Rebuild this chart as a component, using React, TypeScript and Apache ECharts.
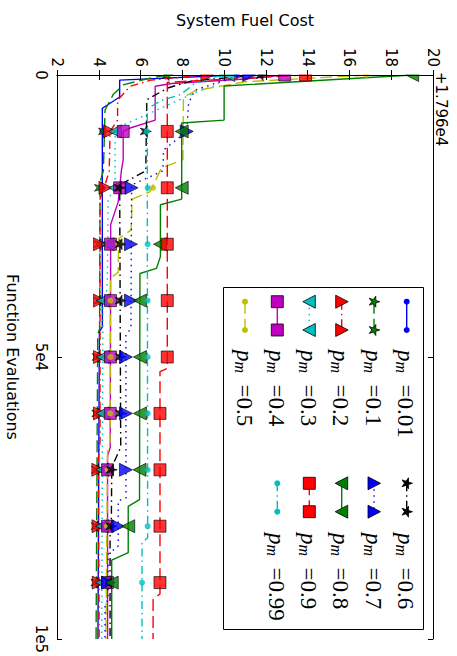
import React, { useEffect, useRef } from "react";
import * as echarts from "echarts";

// ---------------- data ----------------
const markerEvals = [0, 10000, 20000, 30000, 40000, 50000, 60000, 70000, 80000, 90000];
const evalTickLabels: Record<number, string> = { 0: "0", 50000: "5e4", 100000: "1e5" };
const costOffsetLabel = "+1.796e4";
const pmLabels = ["0.01", "0.1", "0.2", "0.3", "0.4", "0.5", "0.6", "0.7", "0.8", "0.9", "0.99"];

// paths: [function evaluations, system fuel cost (offset)]
const path001 = [[0, 10.6], [900, 5.0], [3900, 5.0], [5900, 4.17], [44700, 4.17], [45500, 4.03], [100000, 3.96]];
const path01 = [[0, 7.3], [600, 6.4], [1700, 5.2], [3400, 4.7], [6200, 4.3], [17000, 4.22], [19000, 4.06], [45000, 4.04], [46000, 3.95], [100000, 3.87]];
const path02 = [[0, 9.2], [900, 6.5], [2000, 5.5], [4500, 4.9], [8000, 4.9], [10000, 4.54], [17000, 4.5], [19500, 4.3], [22000, 4.06], [65000, 4.06], [68000, 3.98], [100000, 4.02]];
const path03 = [[0, 10.2], [1800, 9.6], [3000, 8.7], [5000, 7.5], [7500, 6.0], [9000, 5.1], [10000, 4.78], [20000, 4.78], [22000, 4.45], [38000, 4.4], [40000, 4.2], [100000, 4.14]];
const path04 = [[0, 12.9], [700, 11.0], [1500, 7.5], [2000, 6.7], [8000, 6.7], [9400, 5.5], [10000, 5.17], [15000, 5.17], [17000, 5.08], [20000, 5.0], [22500, 4.93], [26500, 4.57], [66000, 4.55], [67500, 4.42], [100000, 4.42]];
const path05 = [[0, 16.8], [600, 14.0], [1200, 11.0], [2800, 8.6], [4000, 8.05], [15000, 8.03], [16500, 7.0], [20700, 6.45], [22000, 5.6], [27500, 5.55], [29000, 4.95], [35000, 4.93], [36000, 4.56], [65000, 4.54], [67000, 4.42], [100000, 4.34]];
const path06 = [[0, 11.8], [1000, 8.5], [2300, 7.3], [4400, 6.3], [17000, 6.25], [19500, 5.0], [66000, 5.05], [68500, 4.75], [70000, 4.62], [80000, 4.6], [81000, 4.54], [100000, 4.54]];
const path07 = [[0, 11.2], [1200, 9.8], [2700, 8.6], [5000, 8.3], [10000, 8.21], [13300, 7.1], [17000, 7.07], [19500, 5.57], [45000, 5.54], [46000, 5.3], [75000, 5.3], [75500, 4.93], [83500, 4.93], [85000, 4.44], [93000, 4.44], [94000, 4.3], [100000, 4.3]];
const path08 = [[0, 19.0], [1950, 10.0], [8000, 10.0], [8500, 7.97], [22000, 7.97], [23000, 6.95], [32200, 6.95], [34300, 6.76], [35200, 5.97], [75300, 5.95], [76500, 5.41], [84700, 5.41], [86000, 4.62], [100000, 4.62]];
const path09 = [[0, 13.9], [1300, 7.28], [52000, 7.28], [52600, 6.93], [92000, 6.93], [93000, 6.6], [100000, 6.6]];
const path099 = [[0, 9.9], [1500, 8.6], [3500, 7.9], [4500, 7.0], [6000, 6.32], [82000, 6.34], [83000, 6.07], [100000, 6.07]];

// marker values (cost) at markerEvals
const mark001 = [10.6, 4.17, 4.17, 4.17, 4.17, 4.03, 4.02, 4.0, 3.99, 3.98];
const mark01 = [7.3, 4.25, 4.06, 4.05, 4.04, 3.95, 3.93, 3.92, 3.9, 3.89];
const mark02 = [9.2, 4.54, 4.32, 4.06, 4.06, 4.06, 4.06, 3.98, 3.99, 4.0];
const mark03 = [10.2, 4.78, 4.78, 4.42, 4.2, 4.19, 4.18, 4.17, 4.16, 4.15];
const mark04 = [12.9, 5.17, 5.0, 4.56, 4.56, 4.56, 4.55, 4.42, 4.42, 4.42];
const mark05 = [16.8, 8.05, 6.6, 4.95, 4.56, 4.56, 4.54, 4.42, 4.39, 4.37];
const mark06 = [11.8, 6.25, 5.0, 5.05, 5.05, 5.05, 5.05, 4.62, 4.6, 4.54];
const mark07 = [11.2, 8.21, 5.57, 5.54, 5.54, 5.3, 5.3, 5.3, 4.93, 4.44];
const mark08 = [19.0, 7.97, 7.97, 6.93, 5.97, 5.97, 5.97, 5.95, 5.41, 4.62];
const mark09 = [13.9, 7.28, 7.28, 7.28, 7.28, 7.28, 6.93, 6.93, 6.93, 6.93];
const mark099 = [9.9, 6.3, 6.34, 6.34, 6.34, 6.34, 6.34, 6.34, 6.34, 6.07];

const paths = [path001, path01, path02, path03, path04, path05, path06, path07, path08, path09, path099];
const marks = [mark001, mark01, mark02, mark03, mark04, mark05, mark06, mark07, mark08, mark09, mark099];

// ---------------- styles ----------------
const C = { b: "#0000ff", g: "#008000", r: "#ff0000", c: "#00bfbf", m: "#bf00bf", y: "#bfbf00", k: "#000000" };
const DASHED = [12, 5];
const DASHDOT = [8, 4, 1.5, 4];
const DOTTED = [1.5, 4.5];
type MK = "dot" | "star" | "tri" | "trv" | "sq";
const styles: { color: string; dash: any; mk: MK }[] = [
  { color: C.b, dash: "solid", mk: "dot" },
  { color: C.g, dash: DASHED, mk: "star" },
  { color: C.r, dash: DASHDOT, mk: "tri" },
  { color: C.c, dash: DOTTED, mk: "trv" },
  { color: C.m, dash: "solid", mk: "sq" },
  { color: C.y, dash: DASHED, mk: "dot" },
  { color: C.k, dash: DASHDOT, mk: "star" },
  { color: C.b, dash: DOTTED, mk: "tri" },
  { color: C.g, dash: "solid", mk: "trv" },
  { color: C.r, dash: DASHED, mk: "sq" },
  { color: C.c, dash: DASHDOT, mk: "dot" },
];

function starPoints(cx: number, cy: number, R: number, r: number, a0: number) {
  const pts: number[][] = [];
  for (let k = 0; k < 10; k++) {
    const a = a0 + (k * Math.PI) / 5;
    const rad = k % 2 === 0 ? R : r;
    pts.push([cx + rad * Math.cos(a), cy + rad * Math.sin(a)]);
  }
  return pts;
}
const starPath =
  "path://" +
  starPoints(0, 0, 10, 3.82, -Math.PI / 2)
    .map((p, i) => (i === 0 ? "M" : "L") + p[0].toFixed(2) + " " + p[1].toFixed(2))
    .join(" ") +
  " Z";

function symbolOpts(mk: MK, color: string) {
  switch (mk) {
    case "dot":
      return { symbol: "circle", symbolSize: 6, symbolRotate: 0, itemStyle: { color, borderWidth: 0 } };
    case "star":
      return { symbol: starPath, symbolSize: 11, symbolRotate: -90, itemStyle: { color, borderColor: "#000", borderWidth: 0.8 } };
    case "tri":
      return { symbol: "triangle", symbolSize: 13, symbolRotate: -90, itemStyle: { color, borderColor: "#000", borderWidth: 0.8 } };
    case "trv":
      return { symbol: "triangle", symbolSize: 13, symbolRotate: 90, itemStyle: { color, borderColor: "#000", borderWidth: 0.8 } };
    case "sq":
      return { symbol: "rect", symbolSize: 12, symbolRotate: 0, itemStyle: { color, borderColor: "#000", borderWidth: 0.8 } };
  }
}

function legendMarker(mk: MK, color: string, cx: number, cy: number): any {
  const st = { fill: color, stroke: "#000", lineWidth: 0.8 };
  switch (mk) {
    case "dot":
      return { type: "circle", shape: { cx, cy, r: 3 }, style: { fill: color }, z: 6 };
    case "sq":
      return { type: "rect", shape: { x: cx - 6, y: cy - 6, width: 12, height: 12 }, style: st, z: 6 };
    case "tri":
      return { type: "polygon", shape: { points: [[cx - 6, cy - 6.5], [cx - 6, cy + 6.5], [cx + 6.5, cy]] }, style: st, z: 6 };
    case "trv":
      return { type: "polygon", shape: { points: [[cx + 6, cy - 6.5], [cx + 6, cy + 6.5], [cx - 6.5, cy]] }, style: st, z: 6 };
    case "star":
      return { type: "polygon", shape: { points: starPoints(cx, cy, 5.8, 2.2, 0) }, style: st, z: 6 };
  }
}

const SANS = "DejaVu Sans";
const SERIF = "Liberation Serif";

export default function App() {
  const ref = useRef<HTMLDivElement>(null);
  useEffect(() => {
    if (!ref.current) return;
    const chart = echarts.init(ref.current, undefined, { renderer: "svg" });

    const series: any[] = [];
    paths.forEach((p, i) => {
      const s = styles[i];
      series.push({
        type: "line",
        name: "p_m=" + pmLabels[i],
        data: p.map(([e, c]) => [c, e]),
        showSymbol: false,
        symbol: "none",
        lineStyle: { color: s.color, width: 1.4, type: s.dash },
        clip: true,
        z: 2,
        silent: true,
      });
      series.push({
        type: "scatter",
        data: marks[i].map((c, k) => [c, markerEvals[k]]),
        ...symbolOpts(s.mk, s.color),
        clip: false,
        z: 2,
        silent: true,
      });
    });

    // legend
    const legendCols = [406.7, 374, 341.7, 309.3, 277.3, 245];
    const legendRows = [
      { m1: 301.7, m2: 330, t: 350 },
      { m1: 483.3, m2: 511.7, t: 533 },
    ];
    const graphics: any[] = [
      { type: "rect", shape: { x: 0, y: 0, width: 457, height: 74.5 }, style: { fill: "#fff" }, z: 3, silent: true },
      { type: "rect", shape: { x: 223.5, y: 287.5, width: 200, height: 342 }, style: { fill: "#fff", stroke: "#000", lineWidth: 1 }, z: 4 },
      {
        type: "text",
        x: 441,
        y: 72,
        rotation: -Math.PI / 2,
        style: { text: costOffsetLabel, fontFamily: SANS, fontSize: 15, fill: "#000", align: "left", verticalAlign: "middle" },
        z: 11,
      },
    ];
    pmLabels.forEach((lab, i) => {
      const s = styles[i];
      const row = legendRows[i < 6 ? 0 : 1];
      const cx = legendCols[i < 6 ? i : i - 6];
      graphics.push({
        type: "line",
        shape: { x1: cx, y1: row.m1, x2: cx, y2: row.m2 },
        style: { stroke: s.color, lineWidth: 1.4, lineDash: s.dash === "solid" ? null : s.dash },
        z: 5,
      });
      graphics.push(legendMarker(s.mk, s.color, cx, row.m1));
      graphics.push(legendMarker(s.mk, s.color, cx, row.m2));
      graphics.push({
        type: "text",
        x: cx - 1,
        y: row.t,
        rotation: -Math.PI / 2,
        style: {
          text: `{i|p}{s|m}{n|  =${lab}}`,
          rich: {
            i: { fontFamily: SERIF, fontStyle: "italic", fontSize: 23, fill: "#000" },
            s: { fontFamily: SERIF, fontStyle: "italic", fontSize: 16, fill: "#000", verticalAlign: "bottom", padding: [8, 0, 0, 0] },
            n: { fontFamily: SERIF, fontSize: 23, fill: "#000" },
          },
          align: "left",
          verticalAlign: "middle",
        },
        z: 6,
      });
    });

    const axisCommon = {
      axisLine: { show: true, lineStyle: { color: "#000", width: 1 } },
      axisTick: { show: true, inside: true, length: 5, lineStyle: { color: "#000", width: 1 } },
      splitLine: { show: false },
      z: 10,
    };

    chart.setOption({
      animation: false,
      backgroundColor: "#fff",
      grid: { left: 57, top: 75, right: 24, bottom: 17, containLabel: false, outerBoundsMode: "none" },
      xAxis: [
        {
          type: "value",
          position: "top",
          min: 2,
          max: 20,
          interval: 2,
          ...axisCommon,
          axisLabel: { rotate: -90, fontSize: 15, fontFamily: SANS, color: "#000", margin: 8, align: "right", verticalAlign: "middle" },
          name: "System Fuel Cost",
          nameLocation: "middle",
          nameGap: 47,
          nameTextStyle: { fontFamily: SANS, fontSize: 16, color: "#000" },
        },
        {
          type: "value",
          position: "bottom",
          min: 2,
          max: 20,
          interval: 2,
          ...axisCommon,
          axisLabel: { show: false },
        },
      ],
      yAxis: [
        {
          type: "value",
          position: "left",
          inverse: true,
          min: 0,
          max: 100000,
          interval: 50000,
          ...axisCommon,
          axisLabel: {
            rotate: -90,
            fontSize: 15,
            fontFamily: SANS,
            color: "#000",
            margin: 9,
            formatter: (v: number) => evalTickLabels[v] ?? "",
          },
          name: "Function Evaluations",
          nameLocation: "middle",
          nameRotate: -90,
          nameGap: 45,
          nameTextStyle: { fontFamily: SANS, fontSize: 16, color: "#000", align: "center", verticalAlign: "middle" },
        },
        {
          type: "value",
          position: "right",
          inverse: true,
          min: 0,
          max: 100000,
          interval: 50000,
          ...axisCommon,
          axisLabel: { show: false },
        },
      ],
      series,
      graphic: graphics,
    });
    return () => chart.dispose();
  }, []);
  return <div ref={ref} style={{ position: "fixed", left: 0, top: 0, width: 457, height: 656 }} />;
}
